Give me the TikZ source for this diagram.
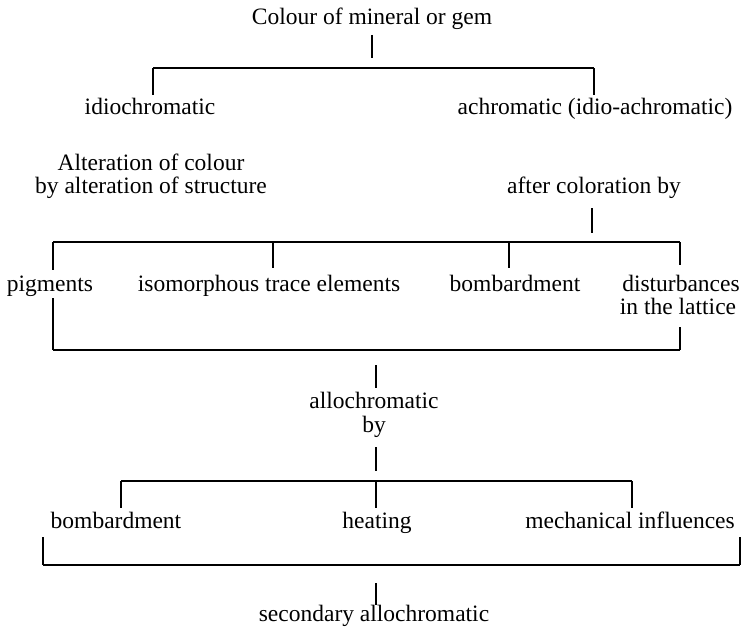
\documentclass[tikz,border=0pt]{standalone}
\usepackage{fontspec}
\setmainfont{Liberation Serif}
\begin{document}
\begin{tikzpicture}[x=1pt,y=-1pt,
  lbl/.style={anchor=base,inner sep=0pt,font=\fontsize{23.5}{22}\selectfont},
  bar/.style={line width=2pt},
  tick/.style={line width=1.3pt}]
\useasboundingbox (0,0) rectangle (743,626);

% ---------- labels ----------
\node[lbl] (title) at (372,25) {Colour of mineral or gem};
\node[lbl] (idio)  at (150,114) {idiochromatic};
\node[lbl] (achro) at (595,114) {achromatic (idio-achromatic)};
\node[lbl] (alterA) at (151,170) {Alteration of colour};
\node[lbl] (alterB) at (151,193) {by alteration of structure};
\node[lbl] (after) at (594,193) {after coloration by};
\node[lbl] (pigm)  at (50,291) {pigments};
\node[lbl] (iso)   at (269,291) {isomorphous trace elements};
\node[lbl] (bomb1) at (515,291) {bombardment};
\node[lbl] (distA) at (681,291) {disturbances};
\node[lbl] (distB) at (678,314) {in the lattice};
\node[lbl] (alloA) at (374,408) {allochromatic};
\node[lbl] (alloB) at (374,432) {by};
\node[lbl] (bomb2) at (116,528) {bombardment};
\node[lbl] (heat)  at (377,528) {heating};
\node[lbl] (mech)  at (630,528) {mechanical influences};
\node[lbl] (sec)   at (374,621) {secondary allochromatic};

% ---------- junction coordinates ----------
% level 1
\coordinate (t1a) at (372,35);  \coordinate (t1b) at (372,58);
\coordinate (b1l) at (153,68);  \coordinate (b1r) at (594,68);
\coordinate (d1l) at (153,95);  \coordinate (d1r) at (594,95);
% level 2
\coordinate (t2a) at (592,208); \coordinate (t2b) at (592,233);
\coordinate (b2l) at (53,242);  \coordinate (b2r) at (680,242);
\coordinate (b2i) at (273,242); \coordinate (b2b) at (509,242);
\coordinate (d2l) at (53,270);  \coordinate (d2i) at (273,268);
\coordinate (d2b) at (509,268); \coordinate (d2r) at (680,265);
\coordinate (u2l) at (53,298);  \coordinate (u2r) at (680,327);
\coordinate (c2l) at (53,350);  \coordinate (c2r) at (680,350);
\coordinate (t3a) at (376,365); \coordinate (t3b) at (376,388);
% level 3
\coordinate (t4a) at (376,447); \coordinate (t4b) at (376,471);
\coordinate (b3l) at (121,481); \coordinate (b3m) at (376,481); \coordinate (b3r) at (632,481);
\coordinate (d3l) at (121,508); \coordinate (d3m) at (376,508); \coordinate (d3r) at (632,508);
\coordinate (u3l) at (43,537);  \coordinate (u3r) at (740,537);
\coordinate (c3l) at (43,565);  \coordinate (c3r) at (740,565);
\coordinate (t5a) at (376,583); \coordinate (t5b) at (376,605);

% ---------- connectors ----------
\draw[tick] (t1a) -- (t1b);
\draw[bar] (b1l) -- (b1r);
\draw[tick] (b1l) -- (d1l);
\draw[tick] (b1r) -- (d1r);

\draw[tick] (t2a) -- (t2b);
\draw[bar] (b2l) -- (b2r);
\draw[tick] (b2l) -- (d2l);
\draw[tick] (b2i) -- (d2i);
\draw[tick] (b2b) -- (d2b);
\draw[tick] (b2r) -- (d2r);
\draw[tick] (u2l) -- (c2l);
\draw[tick] (u2r) -- (c2r);
\draw[bar] (c2l) -- (c2r);
\draw[tick] (t3a) -- (t3b);

\draw[tick] (t4a) -- (t4b);
\draw[bar] (b3l) -- (b3r);
\draw[tick] (b3l) -- (d3l);
\draw[tick] (b3m) -- (d3m);
\draw[tick] (b3r) -- (d3r);
\draw[tick] (u3l) -- (c3l);
\draw[tick] (u3r) -- (c3r);
\draw[bar] (c3l) -- (c3r);
\draw[tick] (t5a) -- (t5b);
\end{tikzpicture}
\end{document}
